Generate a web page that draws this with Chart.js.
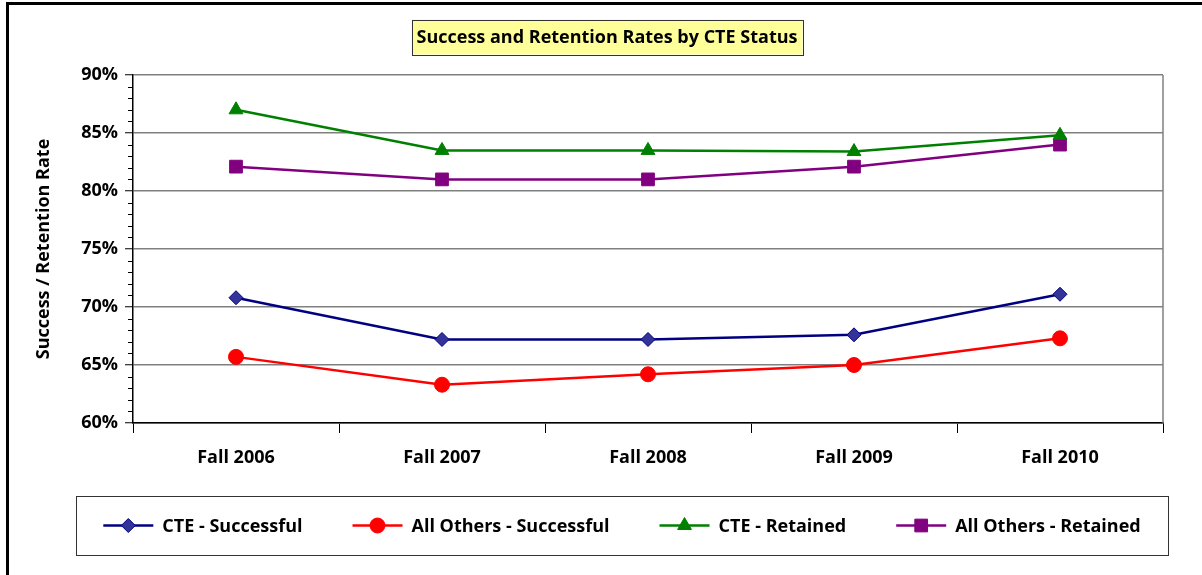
<!DOCTYPE html>
<html lang="en">
<head>
  <meta charset="UTF-8">
  <title>Success and Retention Rates by CTE Status</title>
  <script src="https://cdn.jsdelivr.net/npm/chart.js"></script>
  <style>
    html, body { margin: 0; padding: 0; background: #fff; overflow: hidden; }
    .frame { position: absolute; left: 6px; top: 2px; width: 1300px; height: 700px; border: 3px solid #000; box-sizing: border-box; }
    .chart-box { position: absolute; left: 0; top: 0; width: 1202px; height: 575px; }
  </style>
</head>
<body>
  <div class="frame"></div>
  <div class="chart-box"><canvas id="chart"></canvas></div>
  <script>
    const terms = ['Fall 2006', 'Fall 2007', 'Fall 2008', 'Fall 2009', 'Fall 2010'];
    const cteSuccessful = [70.8, 67.2, 67.2, 67.6, 71.1];
    const othersSuccessful = [65.7, 63.3, 64.2, 65.0, 67.3];
    const cteRetained = [87.0, 83.5, 83.5, 83.4, 84.8];
    const othersRetained = [82.1, 81.0, 81.0, 82.1, 84.0];

    const titleText = 'Success and Retention Rates by CTE Status';
    const yTitle = 'Success / Retention Rate';
    const FONT = '"Open Sans", Lato, sans-serif';

    const series = [
      { label: 'CTE - Successful', data: cteSuccessful, color: '#000080', fill: '#333399', style: 'rectRot', r: 7 },
      { label: 'All Others - Successful', data: othersSuccessful, color: '#FF0000', fill: '#FF0000', style: 'circle', r: 7.5 },
      { label: 'CTE - Retained', data: cteRetained, color: '#008000', fill: '#008000', style: 'triangle', r: 8 },
      { label: 'All Others - Retained', data: othersRetained, color: '#800080', fill: '#800080', style: 'rect', r: 9 }
    ];

    function drawMarker(ctx, style, x, y, r, fill, stroke) {
      ctx.save();
      ctx.fillStyle = fill;
      ctx.strokeStyle = stroke;
      ctx.lineWidth = 1;
      ctx.beginPath();
      if (style === 'rectRot') {
        ctx.moveTo(x, y - r); ctx.lineTo(x + r, y); ctx.lineTo(x, y + r); ctx.lineTo(x - r, y); ctx.closePath();
      } else if (style === 'circle') {
        ctx.arc(x, y, r, 0, Math.PI * 2);
      } else if (style === 'triangle') {
        const w = r * 0.866;
        ctx.moveTo(x, y - r); ctx.lineTo(x + w, y + r / 2); ctx.lineTo(x - w, y + r / 2); ctx.closePath();
      } else {
        const s = r * Math.SQRT1_2;
        ctx.rect(x - s, y - s, s * 2, s * 2);
      }
      ctx.fill();
      ctx.stroke();
      ctx.restore();
    }

    // yellow title box, minor ticks, right border and legend box
    const decorations = {
      id: 'decorations',
      afterDraw(chart) {
        const ctx = chart.ctx;
        const area = chart.chartArea;
        const y = chart.scales.y;

        // title
        ctx.save();
        ctx.font = 'bold 18px ' + FONT;
        const tw = ctx.measureText(titleText).width;
        const cx = 607, cy = 37;
        const bw = tw + 10, bh = 35;
        ctx.fillStyle = '#FFFF99';
        ctx.fillRect(cx - bw / 2, cy - bh / 2, bw, bh);
        ctx.strokeStyle = '#333';
        ctx.lineWidth = 1;
        ctx.strokeRect(Math.round(cx - bw / 2) + 0.5, Math.round(cy - bh / 2) + 0.5, Math.round(bw), bh);
        ctx.fillStyle = '#000';
        ctx.textAlign = 'center';
        ctx.textBaseline = 'middle';
        ctx.fillText(titleText, cx, cy + 1);
        ctx.restore();

        // minor y ticks every 1%
        ctx.save();
        ctx.strokeStyle = '#000';
        ctx.lineWidth = 1;
        for (let v = y.min; v <= y.max; v++) {
          if (v % 5 === 0) continue;
          const py = Math.round(y.getPixelForValue(v)) + 0.5;
          ctx.beginPath();
          ctx.moveTo(area.left - 5, py);
          ctx.lineTo(area.left, py);
          ctx.stroke();
        }
        // right border of plot area
        ctx.strokeStyle = '#808080';
        ctx.lineWidth = 1.5;
        ctx.beginPath();
        ctx.moveTo(area.right, area.top);
        ctx.lineTo(area.right, area.bottom);
        ctx.stroke();
        ctx.restore();

        // legend
        ctx.save();
        const lx = 76, ly = 496, lw = 1092, lh = 59;
        ctx.strokeStyle = '#333';
        ctx.lineWidth = 1;
        ctx.strokeRect(lx + 0.5, ly + 0.5, lw, lh);
        ctx.font = 'bold 18px ' + FONT;
        const lineLen = 50, textGap = 9, itemGap = 50;
        const widths = series.map(s => lineLen + textGap + ctx.measureText(s.label).width);
        const total = widths.reduce((a, b) => a + b, 0) + itemGap * (series.length - 1);
        let x = lx + lw / 2 - total / 2;
        const my = ly + lh / 2;
        series.forEach((s, i) => {
          ctx.strokeStyle = s.color;
          ctx.lineWidth = 2.5;
          ctx.beginPath();
          ctx.moveTo(x, my);
          ctx.lineTo(x + lineLen, my);
          ctx.stroke();
          drawMarker(ctx, s.style, x + lineLen / 2, my, s.r, s.fill, s.color);
          ctx.fillStyle = '#000';
          ctx.textAlign = 'left';
          ctx.textBaseline = 'middle';
          ctx.fillText(s.label, x + lineLen + textGap, my + 1);
          x += widths[i] + itemGap;
        });
        ctx.restore();
      }
    };

    new Chart(document.getElementById('chart'), {
      type: 'line',
      data: {
        labels: terms,
        datasets: series.map(s => ({
          label: s.label,
          data: s.data,
          borderColor: s.color,
          backgroundColor: s.fill,
          pointBackgroundColor: s.fill,
          pointBorderColor: s.color,
          pointBorderWidth: 1,
          pointStyle: s.style,
          pointRadius: s.r,
          pointHoverRadius: s.r,
          borderWidth: 2.5,
          tension: 0,
          fill: false
        }))
      },
      options: {
        responsive: true,
        maintainAspectRatio: false,
        animation: false,
        events: [],
        layout: { padding: { left: 32, right: 39, top: 75, bottom: 0 } },
        plugins: {
          legend: { display: false },
          title: { display: false },
          tooltip: { enabled: false }
        },
        scales: {
          x: {
            offset: true,
            grid: { offset: true, drawOnChartArea: false, drawTicks: true, tickLength: 10, tickColor: '#000', lineWidth: 1 },
            border: { color: '#000', width: 1.5 },
            ticks: { color: '#000', font: { family: FONT, weight: 'bold', size: 18 }, padding: 14, maxRotation: 0 },
            afterFit(scale) { scale.height = 152; }
          },
          y: {
            min: 60,
            max: 90,
            ticks: {
              stepSize: 5,
              color: '#000',
              font: { family: FONT, weight: 'bold', size: 18 },
              padding: 7,
              callback: v => v + '%'
            },
            grid: { color: '#808080', lineWidth: 1.5, tickColor: '#000', tickLength: 8, tickWidth: 1 },
            border: { color: '#000', width: 1.5 },
            title: { display: true, text: yTitle, color: '#000', font: { family: FONT, weight: 'bold', size: 18 }, padding: { top: 1, bottom: 4 } },
            afterFit(scale) { scale.width = 101; }
          }
        }
      },
      plugins: [decorations]
    });
  </script>
</body>
</html>
